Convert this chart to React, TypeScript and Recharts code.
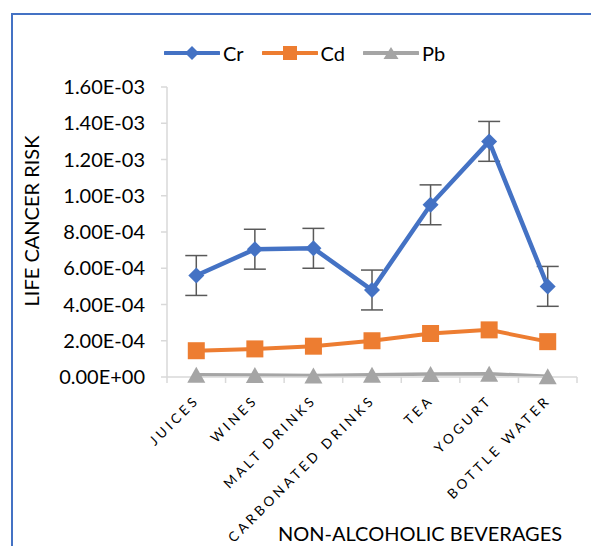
import React from "react";
import { LineChart, Line, XAxis, YAxis, ErrorBar } from "recharts";

const categories = ["JUICES", "WINES", "MALT DRINKS", "CARBONATED DRINKS", "TEA", "YOGURT", "BOTTLE WATER"];
const crValues = [5.6e-4, 7.05e-4, 7.1e-4, 4.8e-4, 9.5e-4, 1.3e-3, 5.0e-4];
const crErrors = [1.1e-4, 1.1e-4, 1.1e-4, 1.1e-4, 1.1e-4, 1.1e-4, 1.1e-4];
const cdValues = [1.45e-4, 1.55e-4, 1.7e-4, 2.0e-4, 2.4e-4, 2.6e-4, 1.95e-4];
const pbValues = [1.2e-5, 1.1e-5, 0.8e-5, 1.2e-5, 1.6e-5, 1.8e-5, 0.4e-5];
const yTicks = [0, 0.0002, 0.0004, 0.0006, 0.0008, 0.001, 0.0012, 0.0014, 0.0016];

const data = categories.map((name, i) => ({
  name,
  Cr: crValues[i],
  crErr: crErrors[i],
  Cd: cdValues[i],
  Pb: pbValues[i],
}));

const FONT = "Lato, 'Noto Sans', sans-serif";
const BLUE = "#4472C4";
const ORANGE = "#ED7D31";
const GRAY = "#A5A5A5";
const AXIS = "#D9D9D9";

const W = 591;
const H = 546;
const margin = { top: 87, right: 14, bottom: 0, left: 0 };
const Y_AXIS_W = 167;
const X_AXIS_H = 169;
const bandW = (W - margin.left - margin.right - Y_AXIS_W) / categories.length;

// 1.60E-03 style labels
const sci = (v: number) => {
  if (v === 0) return "0.00E+00";
  const exp = Math.floor(Math.log10(v) + 1e-9);
  const mant = v / Math.pow(10, exp);
  const sign = exp < 0 ? "-" : "+";
  return `${mant.toFixed(2)}E${sign}${String(Math.abs(exp)).padStart(2, "0")}`;
};

const Diamond = ({ cx, cy, r = 8, fill = BLUE }: any) => (
  <path d={`M${cx},${cy - r}L${cx + r},${cy}L${cx},${cy + r}L${cx - r},${cy}Z`} fill={fill} />
);
const Square = ({ cx, cy, s = 17, fill = ORANGE }: any) => (
  <rect x={cx - s / 2} y={cy - s / 2} width={s} height={s} fill={fill} />
);
const Triangle = ({ cx, cy, w = 18, h = 16, fill = GRAY }: any) => (
  <path d={`M${cx},${cy - h / 2}L${cx + w / 2},${cy + h / 2}L${cx - w / 2},${cy + h / 2}Z`} fill={fill} />
);

const XTick = (props: any) => {
  const { x, y, payload, index } = props;
  const left = x - bandW / 2;
  const right = x + bandW / 2;
  return (
    <g>
      <line x1={left} y1={y} x2={left} y2={y + 6} stroke={AXIS} strokeWidth={1.5} />
      {index === categories.length - 1 && (
        <line x1={right} y1={y} x2={right} y2={y + 6} stroke={AXIS} strokeWidth={1.5} />
      )}
      <text
        transform={`translate(${x + 4},${y + 24}) rotate(-45)`}
        textAnchor="end"
        fontSize={13.5}
        letterSpacing={3.4}
        fill="#000"
        fontFamily={FONT}
      >
        {payload.value}
      </text>
    </g>
  );
};

const legendItems = [
  { name: "Cr", color: BLUE, marker: (c: number) => <Diamond cx={c} cy={10} r={7} /> },
  { name: "Cd", color: ORANGE, marker: (c: number) => <Square cx={c} cy={10} s={14} /> },
  { name: "Pb", color: GRAY, marker: (c: number) => <Triangle cx={c} cy={10} w={15} h={12} /> },
];

export default function App() {
  return (
    <div style={{ position: "absolute", left: 0, top: 0, width: W, height: H, overflow: "hidden", background: "#fff" }}>
      <div
        style={{
          position: "absolute",
          left: 11,
          top: 13,
          width: 700,
          height: 700,
          border: `2px solid ${BLUE}`,
        }}
      />
      {/* legend */}
      <div
        style={{
          position: "absolute",
          top: 41,
          left: 164,
          display: "flex",
          alignItems: "center",
          fontFamily: FONT,
          fontSize: 20,
        }}
      >
        {legendItems.map((it) => (
          <div key={it.name} style={{ display: "flex", alignItems: "center", marginRight: 18 }}>
            <svg width={56} height={20}>
              <line x1={1} y1={10} x2={55} y2={10} stroke={it.color} strokeWidth={4} strokeLinecap="round" />
              {it.marker(28)}
            </svg>
            <span style={{ marginLeft: 3, color: "#000" }}>{it.name}</span>
          </div>
        ))}
      </div>
      <div style={{ position: "absolute", left: 0, top: 0 }}>
        <LineChart width={W} height={H} data={data} margin={margin}>
          <XAxis
            dataKey="name"
            height={X_AXIS_H}
            interval={0}
            padding={{ left: bandW / 2, right: bandW / 2 }}
            tickLine={false}
            tickSize={0}
            tickMargin={0}
            axisLine={{ stroke: AXIS, strokeWidth: 1.5 }}
            tick={<XTick />}
            label={{
              content: ({ viewBox }: any) => (
                <text
                  x={viewBox.x + viewBox.width / 2 + 48}
                  y={541}
                  textAnchor="middle"
                  fontSize={20}
                  fontFamily={FONT}
                  fill="#000"
                >
                  NON-ALCOHOLIC BEVERAGES
                </text>
              ),
            }}
          />
          <YAxis
            width={Y_AXIS_W}
            domain={[0, 0.0016]}
            ticks={yTicks}
            tickFormatter={sci}
            tickSize={6}
            tickMargin={16}
            axisLine={{ stroke: AXIS, strokeWidth: 1.5 }}
            tickLine={{ stroke: AXIS, strokeWidth: 1.5 }}
            tick={{ fontSize: 20, fill: "#000", fontFamily: FONT }}
            label={{
              content: () => (
                <text
                  transform="translate(39,221) rotate(-90)"
                  textAnchor="middle"
                  fontSize={20}
                  fontFamily={FONT}
                  fill="#000"
                >
                  LIFE CANCER RISK
                </text>
              ),
            }}
          />
          <Line
            dataKey="Pb"
            stroke={GRAY}
            strokeWidth={3.5}
            isAnimationActive={false}
            dot={(p: any) => <Triangle key={`pb-${p.index}`} cx={p.cx} cy={p.cy} />}
            activeDot={false}
          />
          <Line
            dataKey="Cd"
            stroke={ORANGE}
            strokeWidth={4}
            isAnimationActive={false}
            dot={(p: any) => <Square key={`cd-${p.index}`} cx={p.cx} cy={p.cy} />}
            activeDot={false}
          />
          <Line
            dataKey="Cr"
            stroke={BLUE}
            strokeWidth={4.5}
            isAnimationActive={false}
            dot={(p: any) => <Diamond key={`cr-${p.index}`} cx={p.cx} cy={p.cy} />}
            activeDot={false}
          >
            <ErrorBar dataKey="crErr" width={11} stroke="#595959" strokeWidth={1.5} direction="y" />
          </Line>
        </LineChart>
      </div>
    </div>
  );
}
